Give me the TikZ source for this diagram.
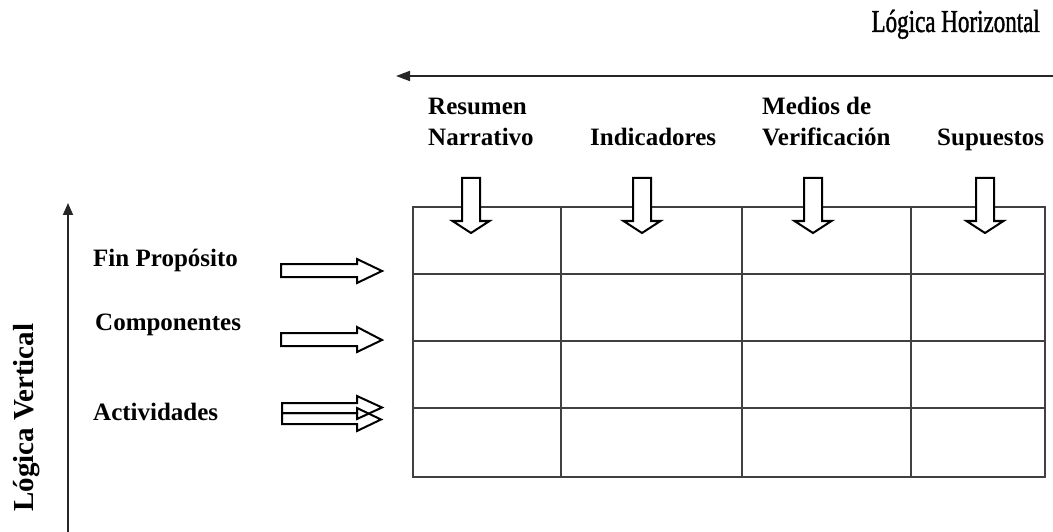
\documentclass[tikz,border=0pt]{standalone}
\usepackage{fontspec}
\setmainfont{Liberation Serif}
\newfontfamily\condfont[FakeStretch=0.72,FakeBold=1.2]{Liberation Serif}
\usetikzlibrary{arrows.meta}
\definecolor{gridgray}{HTML}{404040}
\begin{document}
\begin{tikzpicture}[x=1pt,y=-1pt,
  lbl/.style={font=\fontsize{25}{31}\selectfont\bfseries, inner sep=0pt, anchor=base west, align=left},
  gridline/.style={draw=gridgray, line width=1.2pt},
  blockarrow/.style={draw=black, line width=2pt, line join=miter},
  axisline/.style={draw=black!85, line width=1.8pt}]
\useasboundingbox (0,0) rectangle (1053,532);

% table
\coordinate (tl) at (413,207);
\coordinate (br) at (1045,477);
\draw[gridline] (tl) rectangle (br);
\foreach \x in {561,742,911} \draw[gridline] (\x,207) -- (\x,477);
\foreach \y in {274,341,408} \draw[gridline] (413,\y) -- (1045,\y);

% down block arrows
\foreach \cx/\nm in {471/da,642/db,813/dc,985/dd}
  \draw[blockarrow, fill=white] (\cx-9,178) -- (\cx+9,178) -- (\cx+9,221) -- (\cx+18.5,221) -- (\cx,233) -- (\cx-18.5,221) -- (\cx-9,221) -- cycle;

% headers
\node[lbl] (res) at (428,146) {Resumen\\Narrativo};
\node[lbl] (ind) at (590,146) {Indicadores};
\node[lbl] (med) at (762,146) {Medios de\\Verificación};
\node[lbl] (sup) at (937,146) {Supuestos};

% horizontal logic
\node[font=\condfont\fontsize{32}{36}\selectfont, inner sep=0pt, anchor=base east] (lh) at (1040,32) {Lógica Horizontal};
\coordinate (hs) at (1053,76);
\coordinate (he) at (396,76);
\draw[axisline, -{Triangle[length=14pt,width=10pt]}] (hs) -- (he);

% vertical logic
\coordinate (vs) at (68,532);
\coordinate (ve) at (68,203);
\draw[axisline, -{Triangle[length=12pt,width=10pt]}] (vs) -- (ve);
\node[font=\fontsize{29}{33}\selectfont\bfseries, inner sep=0pt, anchor=base west, rotate=90] (lv) at (33,512) {Lógica Vertical};

% left labels
\node[lbl] (fin) at (93,266) {Fin Propósito};
\node[lbl] (comp) at (95,330) {Componentes};
\node[lbl] (act) at (93,420) {Actividades};

% right block arrows
\draw[blockarrow] (281,264) -- (357,264) -- (357,259) -- (382,271) -- (357,283) -- (357,277) -- (281,277) -- cycle;
\draw[blockarrow] (281,333) -- (357,333) -- (357,327) -- (382,340) -- (357,352) -- (357,346) -- (281,346) -- cycle;
\draw[blockarrow] (282,403) -- (357,403) -- (357,396) -- (382,407.5) -- (357,419) -- (357,413) -- (282,413) -- cycle;
\draw[blockarrow] (282,413) -- (357,413) -- (357,408) -- (381,419.5) -- (357,431) -- (357,424) -- (282,424) -- cycle;
\end{tikzpicture}
\end{document}
